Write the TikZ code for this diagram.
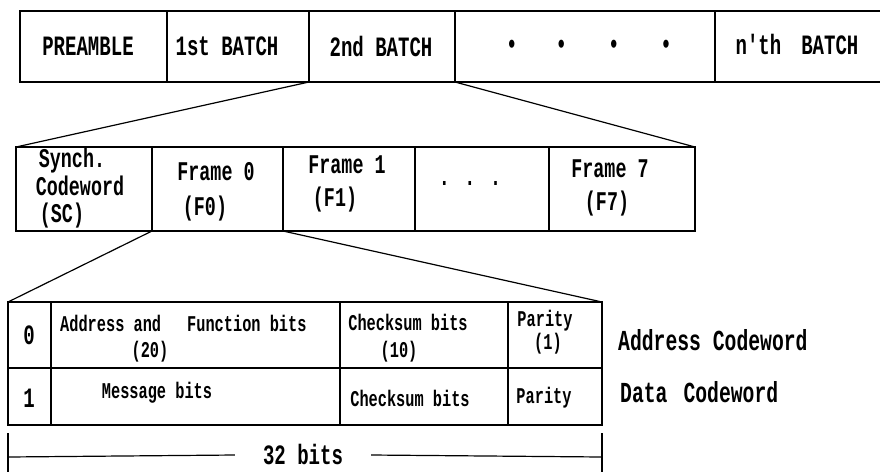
\documentclass[tikz,border=0pt]{standalone}
\usepackage{fontspec}
\newfontfamily\tw[FakeStretch=0.68]{Liberation Mono}
\begin{document}
\begin{tikzpicture}[x=1pt,y=-1pt,
  cell/.style={draw, line width=1.2pt, rectangle, anchor=north west, inner sep=0pt, outer sep=0pt},
  conn/.style={line width=1.2pt},
  big/.style={inner sep=0pt, font={\tw\bfseries\fontsize{28}{30}\selectfont}},
  mid/.style={inner sep=0pt, font={\tw\bfseries\fontsize{27}{29}\selectfont}},
  small/.style={inner sep=0pt, font={\tw\bfseries\fontsize{22.5}{24}\selectfont}},
  side/.style={inner sep=0pt, anchor=west, font={\tw\bfseries\fontsize{29}{31}\selectfont}}]
\clip (0,0) rectangle (880,472);
\fill[white] (0,0) rectangle (880,472);
% top row
\node[cell, minimum width=147, minimum height=71] (pre) at (20,11) {};
\node[cell, minimum width=142, minimum height=71] (b1) at (167,11) {};
\node[cell, minimum width=146, minimum height=71] (b2) at (309,11) {};
\node[cell, minimum width=260, minimum height=71] (bd) at (455,11) {};
\node[cell, minimum width=190, minimum height=71] (bn) at (715,11) {};
\node[big] (tpre) at (88,46) {PREAMBLE};
\node[big] (tb1) at (227,46) {1st BATCH};
\node[big] (tb2) at (381,46) {2nd BATCH};
\node[big] (tbd) at (589,47) {•\hspace{38pt}•\hspace{41pt}•\hspace{41pt}•};
\node[big] (tbn) at (797,44) {n'th\hspace{20pt}BATCH};
% second row
\node[cell, minimum width=136, minimum height=84] (sc) at (16,147) {};
\node[cell, minimum width=131, minimum height=84] (f0) at (152,147) {};
\node[cell, minimum width=132, minimum height=84] (f1) at (283,147) {};
\node[cell, minimum width=134, minimum height=84] (sd) at (415,147) {};
\node[cell, minimum width=146, minimum height=84] (f7) at (549,147) {};
\node[mid] (tsc1) at (72,161) {Synch.};
\node[mid] (tsc2) at (80,186) {Codeword};
\node[mid] (tsc3) at (62,216) {(SC)};
\node[mid] (tf01) at (216,172) {Frame 0};
\node[mid] (tf02) at (205,209) {(F0)};
\node[mid] (tf11) at (347,165) {Frame 1};
\node[mid] (tf12) at (335,200) {(F1)};
\node[mid] (tsd) at (470,183) {. . .};
\node[mid] (tf71) at (610,169) {Frame 7};
\node[mid] (tf72) at (607,204) {(F7)};
% table
\node[cell, minimum width=43, minimum height=66] (a0) at (8,302) {};
\node[cell, minimum width=289, minimum height=66] (a1) at (51,302) {};
\node[cell, minimum width=168, minimum height=66] (a2) at (340,302) {};
\node[cell, minimum width=94, minimum height=66] (a3) at (508,302) {};
\node[cell, minimum width=43, minimum height=57] (d0) at (8,368) {};
\node[cell, minimum width=289, minimum height=57] (d1) at (51,368) {};
\node[cell, minimum width=168, minimum height=57] (d2) at (340,368) {};
\node[cell, minimum width=94, minimum height=57] (d3) at (508,368) {};
\node[big] (ta0) at (29,335) {0};
\node[small, anchor=west] (ta1a) at (60,323) {Address and\hspace{26pt}Function bits};
\node[small] (ta1b) at (150,352) {(20)};
\node[small] (ta2a) at (408,322) {Checksum bits};
\node[small] (ta2b) at (399,352) {(10)};
\node[small] (ta3a) at (545,321) {Parity};
\node[small] (ta3b) at (548,344) {(1)};
\node[big] (td0) at (29,398) {1};
\node[small] (td1) at (157,393) {Message bits};
\node[small] (td2) at (410,398) {Checksum bits};
\node[small] (td3) at (544,398) {Parity};
\node[side] (lab1) at (618,340) {Address Codeword};
\node[side] (lab2) at (620,392) {Data\hspace{16pt}Codeword};
% zoom connectors
\draw[conn] (b2.south west) -- (sc.north west);
\draw[conn] (b2.south east) -- (f7.north east);
\draw[conn] (f0.south west) -- (a0.north west);
\draw[conn] (f0.south east) -- (a3.north east);
% 32 bits dimension
\coordinate (lt) at (8,433);
\coordinate (lb) at (8,472);
\coordinate (rt) at (602,433);
\coordinate (rb) at (602,472);
\coordinate (lm) at (8,457);
\coordinate (rm) at (602,457);
\draw[conn] (lt) -- (lb);
\draw[conn] (rt) -- (rb);
\node[big, inner xsep=28pt] (bits) at (303,455) {32 bits};
\draw[conn] (lm) -- (bits.west);
\draw[conn] (bits.east) -- (rm);
\end{tikzpicture}
\end{document}
